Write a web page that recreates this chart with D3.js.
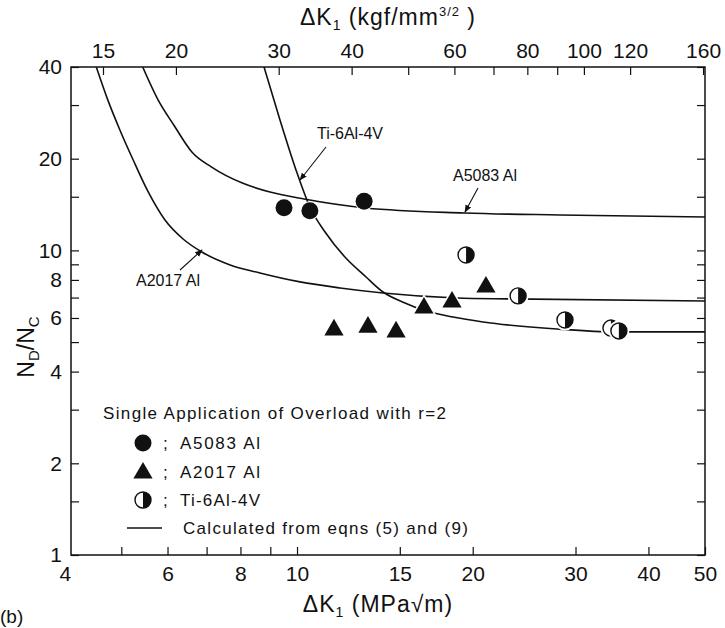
<!DOCTYPE html>
<html>
<head>
<meta charset="utf-8">
<script src="https://cdn.jsdelivr.net/npm/d3@7"></script>
<style>
body{margin:0;background:#fff;}
svg text{font-family:"Liberation Sans",Arial,sans-serif;fill:#111;}
</style>
</head>
<body>
<svg id="chart" width="725" height="628"></svg>
<script>
// data (x = dK in MPa sqrt(m), y = ND/NC)
var a5083Pts = [[9.50,13.8],[10.52,13.5],[13.03,14.5]];
var a2017Pts = [[11.57,5.48],[13.23,5.60],[14.78,5.40],[16.50,6.47],[18.43,6.77],[21.07,7.58]];
var tiPts = [[19.48,9.66],[23.92,7.09],[28.78,5.91],[34.5,5.56],[35.6,5.44]];

var a5083Calc = [[5.44,40],[5.78,31.2],[6.15,25.8],[6.61,21.0],[7.13,18.8],[8.08,16.6],[8.99,15.55],[10.28,14.75],[13.13,13.78],[19.33,13.27],[28.2,13.07],[50,12.87]];
var a2017Calc = [[4.53,40],[4.74,31.2],[4.97,24.9],[5.24,19.8],[5.56,15.55],[5.94,12.58],[6.38,10.90],[6.87,9.88],[7.68,8.96],[8.64,8.43],[10.12,7.88],[11.85,7.53],[14.04,7.25],[18.80,6.98],[23.17,6.93],[50,6.82]];
var tiCalc = [[8.78,40],[9.35,26.8],[9.96,18.37],[10.52,13.88],[11.17,11.49],[12.08,9.51],[13.13,8.18],[14.04,7.30],[15.31,6.72],[16.44,6.37],[18.50,6.04],[20.83,5.82],[27.88,5.52],[35.3,5.40],[50,5.40]];

var xTicks = [4,5,6,7,8,9,10,15,20,30,40,50];
var xLabels = [4,6,8,10,15,20,30,40,50];
var yTicks = [1,1.5,2,3,4,5,6,7,8,9,10,15,20,30,40];
var yLabels = [1,2,4,6,8,10,20,40];
var topTicks = [15,20,30,40,50,60,70,80,90,100,120,160];
var topLabels = [15,20,30,40,60,80,100,120,160];

var kgf = 1/0.3101; // MPa sqrt(m) -> kgf/mm^3/2

var svg = d3.select("#chart");
var L=71,R=705,T=67,B=555;
var x = d3.scaleLog().domain([4.1,50]).range([L,R]);
var y = d3.scaleLog().domain([1,40]).range([B,T]);
var xTop = d3.scaleLog().domain([4.1*kgf,50*kgf]).range([L,R]);

var fmt = list => (d => list.indexOf(d)>=0 ? d : "");

var gB = svg.append("g").attr("transform","translate(0,"+B+")")
	.call(d3.axisBottom(x).tickValues(xTicks).tickSize(-8).tickPadding(11).tickFormat(fmt(xLabels)));
var gL = svg.append("g").attr("transform","translate("+L+",0)")
	.call(d3.axisLeft(y).tickValues(yTicks).tickSize(-8).tickPadding(9).tickFormat(fmt(yLabels)));
var gR = svg.append("g").attr("transform","translate("+R+",0)")
	.call(d3.axisRight(y).tickValues(yTicks).tickSize(-8).tickFormat(""));
var gT = svg.append("g").attr("transform","translate(0,"+T+")")
	.call(d3.axisTop(xTop).tickValues(topTicks).tickSize(-8).tickPadding(9).tickFormat(fmt(topLabels)));

[gB,gL,gR,gT].forEach(g=>{
	g.select(".domain").remove();
	g.selectAll("line").attr("stroke","#111").attr("stroke-width",1.2);
	g.selectAll("text").attr("font-size",21).attr("font-family","Liberation Sans, Arial, sans-serif").attr("fill","#111");
});
// tick at 4 sits outside the frame
gB.selectAll(".tick").filter(d=>d<4.1).select("line").remove();

svg.append("rect").attr("x",L).attr("y",T).attr("width",R-L).attr("height",B-T)
	.attr("fill","none").attr("stroke","#111").attr("stroke-width",1.5);

// calculated curves
var line = d3.line().x(d=>x(d[0])).y(d=>y(d[1])).curve(d3.curveMonotoneX);
svg.append("clipPath").attr("id","cp").append("rect")
	.attr("x",L).attr("y",T).attr("width",R-L).attr("height",B-T);
svg.append("g").attr("clip-path","url(#cp)")
	.selectAll("path").data([a5083Calc,a2017Calc,tiCalc]).enter()
	.append("path").attr("d",line).attr("fill","none")
	.attr("stroke","#111").attr("stroke-width",1.6);

// annotation arrows
svg.append("defs").append("marker").attr("id","ah").attr("viewBox","0 0 10 10")
	.attr("refX",9).attr("refY",5).attr("markerWidth",7).attr("markerHeight",7)
	.attr("orient","auto").append("path").attr("d","M0,1L10,5L0,9z").attr("fill","#111");
var notes = [
	{t:"Ti-6Al-4V", tx:350, ty:139, x1:326, y1:147, x2:300, y2:180},
	{t:"A5083 Al", tx:485, ty:181, x1:478, y1:188, x2:465, y2:212},
	{t:"A2017 Al", tx:168, ty:286, x1:180, y1:270, x2:202, y2:250}
];
svg.selectAll("line.note").data(notes).enter().append("line").attr("class","note")
	.attr("x1",d=>d.x1).attr("y1",d=>d.y1).attr("x2",d=>d.x2).attr("y2",d=>d.y2)
	.attr("stroke","#111").attr("stroke-width",1.1).attr("marker-end","url(#ah)");
svg.selectAll("text.note").data(notes).enter().append("text").attr("class","note")
	.attr("x",d=>d.tx).attr("y",d=>d.ty).attr("text-anchor","middle")
	.attr("font-size",16).text(d=>d.t);

// markers
function halfCircle(g,cx,cy,r){
	g.append("circle").attr("cx",cx).attr("cy",cy).attr("r",r+2.5).attr("fill","#fff");
	g.append("circle").attr("cx",cx).attr("cy",cy).attr("r",r).attr("fill","#fff")
		.attr("stroke","#111").attr("stroke-width",1.4);
	g.append("path").attr("d","M"+cx+","+(cy-r)+"A"+r+","+r+" 0 0 1 "+cx+","+(cy+r)+"Z").attr("fill","#111");
}
var tri = d3.symbol().type(d3.symbolTriangle).size(160);
var pg = svg.append("g");
pg.selectAll("circle").data(a5083Pts).enter().append("circle")
	.attr("cx",d=>x(d[0])).attr("cy",d=>y(d[1])).attr("r",8.5)
	.attr("fill","#111").attr("stroke","#fff").attr("stroke-width",2).attr("paint-order","stroke");
pg.selectAll("path.tri").data(a2017Pts).enter().append("path").attr("class","tri")
	.attr("d",tri).attr("transform",d=>"translate("+x(d[0])+","+y(d[1])+")")
	.attr("fill","#111").attr("stroke","#fff").attr("stroke-width",3).attr("paint-order","stroke");
tiPts.forEach(d=>halfCircle(pg,x(d[0]),y(d[1]),8));

// legend
var lg = svg.append("g");
lg.append("text").attr("x",103).attr("y",419).attr("font-size",17)
	.attr("textLength",343).attr("lengthAdjust","spacing").text("Single Application of Overload with r=2");
lg.append("circle").attr("cx",143).attr("cy",443).attr("r",8.5).attr("fill","#111");
lg.append("path").attr("d",tri).attr("transform","translate(143,473)").attr("fill","#111");
halfCircle(lg,143,500,8);
lg.append("line").attr("x1",127).attr("x2",162).attr("y1",528).attr("y2",528).attr("stroke","#111").attr("stroke-width",1.6);
var legNames = [["A5083 Al",443,80],["A2017 Al",472,80],["Ti-6Al-4V",500,80]];
legNames.forEach(n=>{
	lg.append("text").attr("x",163).attr("y",n[1]+6).attr("font-size",17).text(";");
	lg.append("text").attr("x",180).attr("y",n[1]+6).attr("font-size",17)
		.attr("textLength",n[2]).attr("lengthAdjust","spacing").text(n[0]);
});
lg.append("text").attr("x",183).attr("y",534).attr("font-size",17)
	.attr("textLength",285).attr("lengthAdjust","spacing").text("Calculated from eqns (5) and (9)");

// axis titles
var tt = svg.append("text").attr("x",388).attr("y",25).attr("text-anchor","middle")
	.attr("font-size",23).attr("letter-spacing",1);
tt.append("tspan").text("ΔK");
tt.append("tspan").attr("font-size",14).attr("dy",5).text("1");
tt.append("tspan").attr("dy",-5).text(" (kgf/mm");
tt.append("tspan").attr("font-size",13).attr("dy",-9).text("3/2");
tt.append("tspan").attr("dy",9).text(" )");

var bt = svg.append("text").attr("x",378).attr("y",612).attr("text-anchor","middle")
	.attr("font-size",23).attr("letter-spacing",1);
bt.append("tspan").text("ΔK");
bt.append("tspan").attr("font-size",14).attr("dy",5).text("1");
bt.append("tspan").attr("dy",-5).text(" (MPa√m)");

var yt = svg.append("text").attr("transform","translate(34,347) rotate(-90)").attr("text-anchor","middle").attr("font-size",23);
yt.append("tspan").text("N");
yt.append("tspan").attr("font-size",15).attr("dy",5).text("D");
yt.append("tspan").attr("dy",-5).text("/");
yt.append("tspan").text("N");
yt.append("tspan").attr("font-size",15).attr("dy",5).text("C");

svg.append("text").attr("x",0).attr("y",623).attr("font-size",19).text("(b)");
</script>
</body>
</html>
